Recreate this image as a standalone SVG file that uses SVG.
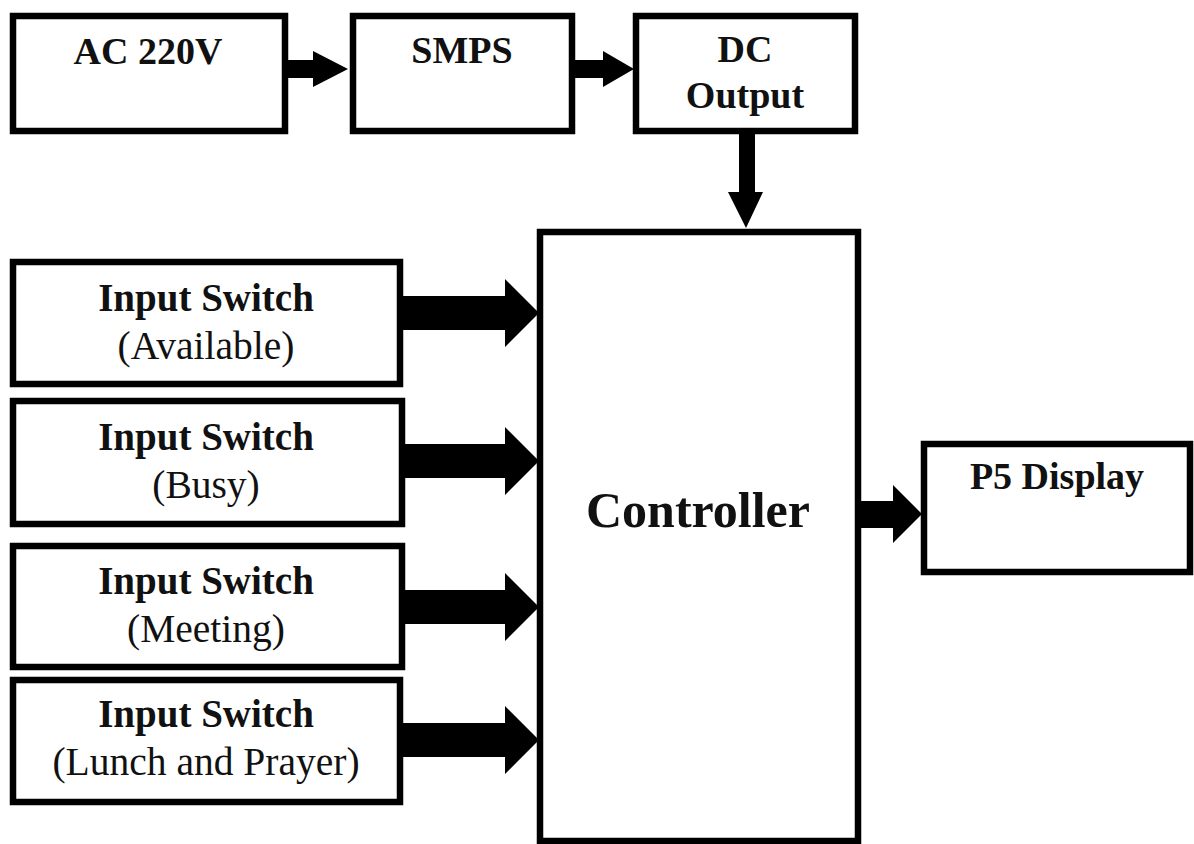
<svg xmlns="http://www.w3.org/2000/svg" width="1194" height="844" viewBox="0 0 1194 844">
<style>
.box{fill:#fff;stroke:#000;stroke-width:6.5}
.arr{fill:#000;stroke:none}
text{font-family:"Liberation Serif","Times New Roman",serif;fill:#111;text-anchor:middle}
.b{font-weight:bold;font-size:38px}
.s{font-weight:bold;font-size:39px}
.r{font-size:39.5px}
.big{font-weight:bold;font-size:50px}
</style>
<rect x="0" y="0" width="1194" height="844" fill="#fff"/>
<g id="connectors">
<polygon class="arr" points="288,60 313,60 313,51 348,69 313,87 313,78 288,78"/>
<polygon class="arr" points="575,60 603,60 603,51 634,69 603,87 603,78 575,78"/>
<polygon class="arr" points="739,134 755,134 755,192 763,192 746,228 728,192 739,192"/>
<polygon class="arr" points="403,296 505,296 505,279 539,313 505,347 505,330 403,330"/>
<polygon class="arr" points="405,444 505,444 505,427 539,461 505,495 505,478 405,478"/>
<polygon class="arr" points="405,590 505,590 505,573 539,607 505,641 505,624 405,624"/>
<polygon class="arr" points="403,723 505,723 505,706 539,740 505,774 505,757 403,757"/>
<polygon class="arr" points="861,501 893,501 893,485 922,514 893,543 893,528 861,528"/>
</g>
<g id="ac">
<rect class="box" x="13" y="16" width="272" height="115"/>
<text class="b" x="148" y="64">AC 220V</text>
</g>
<g id="smps">
<rect class="box" x="353" y="16" width="219" height="115"/>
<text class="b" x="462" y="63">SMPS</text>
</g>
<g id="dc">
<rect class="box" x="636" y="16" width="219" height="115"/>
<text class="b" x="745" y="62">DC</text>
<text class="b" x="745" y="108">Output</text>
</g>
<g id="sw1">
<rect class="box" x="13" y="262" width="387" height="122"/>
<text class="s" x="206" y="311">Input Switch</text>
<text class="r" x="206" y="359">(Available)</text>
</g>
<g id="sw2">
<rect class="box" x="13" y="401" width="389" height="123"/>
<text class="s" x="206" y="450">Input Switch</text>
<text class="r" x="206" y="498">(Busy)</text>
</g>
<g id="sw3">
<rect class="box" x="13" y="546" width="389" height="121"/>
<text class="s" x="206" y="594">Input Switch</text>
<text class="r" x="206" y="642">(Meeting)</text>
</g>
<g id="sw4">
<rect class="box" x="13" y="680" width="387" height="122"/>
<text class="s" x="206" y="727">Input Switch</text>
<text class="r" x="206" y="775">(Lunch and Prayer)</text>
</g>
<g id="controller">
<rect class="box" x="540" y="232" width="318" height="609"/>
<text class="big" x="698" y="527">Controller</text>
</g>
<g id="p5">
<rect class="box" x="924" y="444" width="266" height="128"/>
<text class="b" x="1057" y="489">P5 Display</text>
</g>
</svg>
